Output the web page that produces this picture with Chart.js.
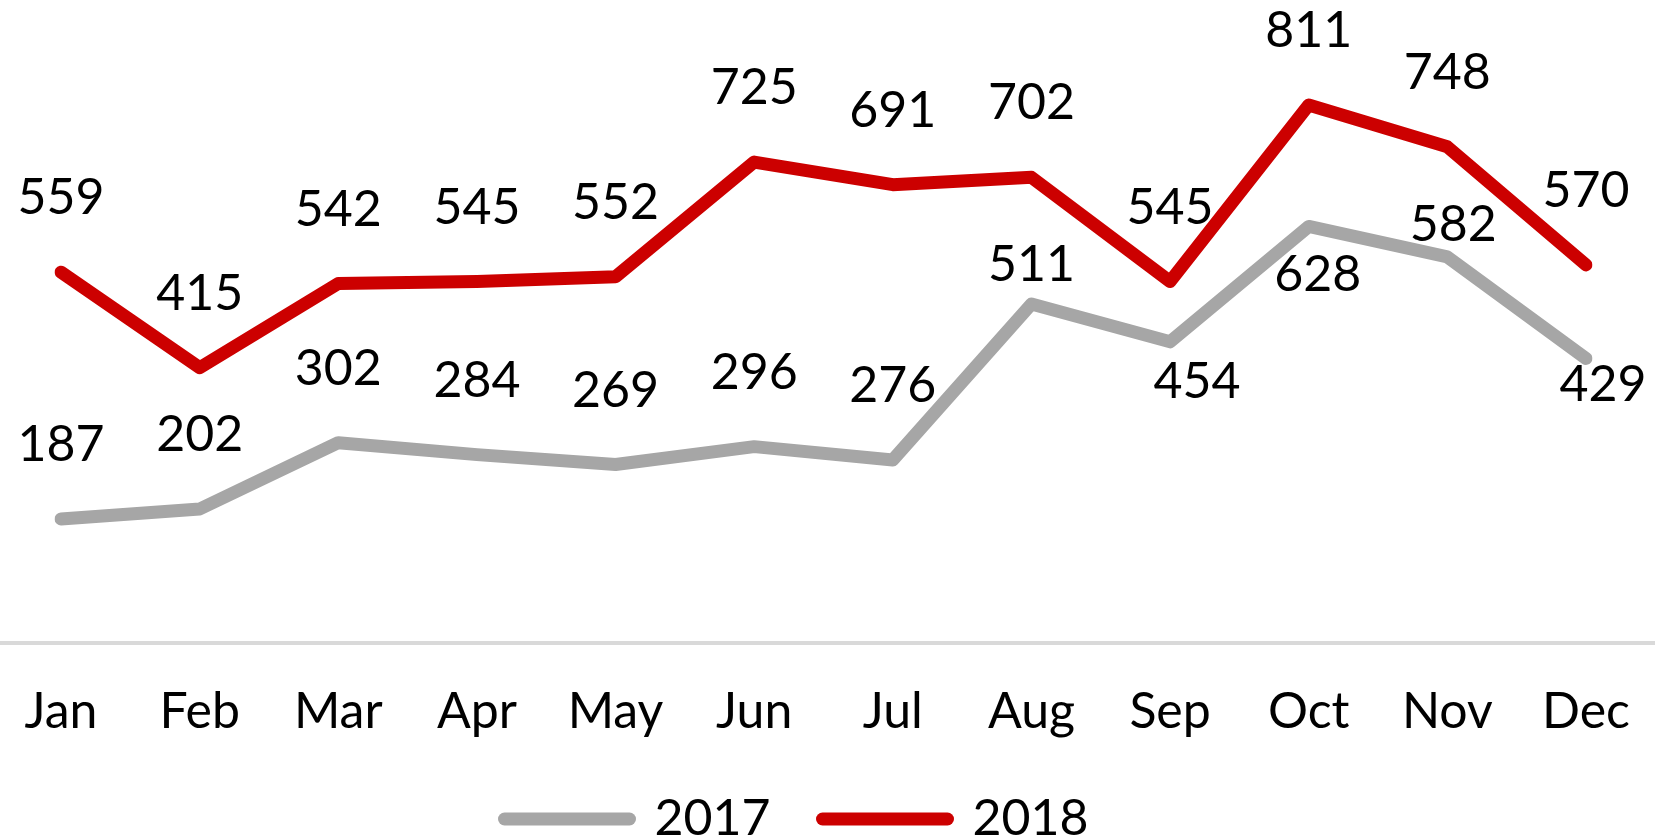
<!DOCTYPE html>
<html>
<head>
<meta charset="utf-8">
<script src="https://cdn.jsdelivr.net/npm/chart.js@4.4.0/dist/chart.umd.min.js"></script>
<style>
  html, body { margin: 0; padding: 0; background: #fff; overflow: hidden; }
  #wrap { width: 1661px; height: 840px; position: relative; }
</style>
</head>
<body>
<div id="wrap"><canvas id="myChart"></canvas></div>
<script>
// data
var months = ['Jan', 'Feb', 'Mar', 'Apr', 'May', 'Jun', 'Jul', 'Aug', 'Sep', 'Oct', 'Nov', 'Dec'];
var sales2017 = [187, 202, 302, 284, 269, 296, 276, 511, 454, 628, 582, 429];
var sales2018 = [559, 415, 542, 545, 552, 725, 691, 702, 545, 811, 748, 570];

// where each value label sits relative to its point (style only)
var labelShift2017 = [[0, -74], [0, -74], [0, -74], [0, -74], [0, -74], [0, -74], [0, -74],
                      [0, -39], [27, 40], [9, 48], [6, -32], [17, 26]];
var labelShift2018 = [[0, -74]];

const font = 'Lato, "Gill Sans", "Open Sans", sans-serif';

// thin grey line along the value 0, drawn across the whole width
const baseline = {
    id: 'baseline',
    beforeDatasetsDraw(chart) {
        const ctx = chart.ctx;
        const y = chart.scales.y.getPixelForValue(0);
        ctx.save();
        ctx.strokeStyle = '#d9d9d9';
        ctx.lineWidth = 4;
        ctx.beginPath();
        ctx.moveTo(0, y);
        ctx.lineTo(1655, y);
        ctx.stroke();
        ctx.restore();
    }
};

// value labels for every point
const valueLabels = {
    id: 'valueLabels',
    afterDatasetsDraw(chart) {
        const ctx = chart.ctx;
        ctx.save();
        ctx.font = '50px ' + font;
        ctx.fillStyle = '#000';
        ctx.textAlign = 'center';
        ctx.textBaseline = 'middle';
        chart.data.datasets.forEach((ds, di) => {
            const meta = chart.getDatasetMeta(di);
            const shifts = ds.labelShift;
            meta.data.forEach((pt, i) => {
                const s = shifts[i] || shifts[0];
                ctx.fillText(ds.data[i], pt.x + s[0], pt.y + s[1]);
            });
        });
        ctx.restore();
    }
};

// legend sits a little left of centre in the original
const legendNudge = {
    id: 'legendNudge',
    afterLayout(chart) {
        chart.legend.left -= 27;
        chart.legend.right -= 27;
    }
};

const data = {
    labels: months,
    datasets: [{
        label: '2017',
        data: sales2017,
        borderColor: '#a6a6a6',
        backgroundColor: '#a6a6a6',
        borderWidth: 13,
        borderCapStyle: 'round',
        borderJoinStyle: 'round',
        pointRadius: 0,
        labelShift: labelShift2017
    }, {
        label: '2018',
        data: sales2018,
        borderColor: '#cc0000',
        backgroundColor: '#cc0000',
        borderWidth: 13,
        borderCapStyle: 'round',
        borderJoinStyle: 'round',
        pointRadius: 0,
        labelShift: labelShift2018
    }]
};

const config = {
    type: 'line',
    data: data,
    options: {
        responsive: true,
        maintainAspectRatio: false,
        animation: false,
        layout: { padding: { top: 46, left: 61, right: 75, bottom: -14 } },
        scales: {
            x: {
                offset: false,
                grid: { display: false, drawTicks: false },
                border: { display: false },
                ticks: {
                    color: '#000',
                    font: { family: font, size: 50, lineHeight: 2.76 },
                    padding: 0,
                    autoSkip: false,
                    maxRotation: 0
                },
                afterFit: (scale) => { scale.height = 99; }
            },
            y: {
                display: false,
                min: 0,
                max: 900
            }
        },
        plugins: {
            legend: {
                position: 'bottom',
                labels: {
                    color: '#000',
                    font: { family: font, size: 50 },
                    usePointStyle: true,
                    pointStyle: 'line',
                    pointStyleWidth: 125,
                    padding: 52,
                    generateLabels: (chart) =>
                        Chart.defaults.plugins.legend.labels.generateLabels(chart)
                            .map(item => Object.assign(item, { lineCap: 'round' }))
                }
            },
            tooltip: { enabled: false }
        }
    },
    plugins: [baseline, valueLabels, legendNudge]
};

const myChart = new Chart(
    document.getElementById('myChart'),
    config
);
</script>
</body>
</html>
